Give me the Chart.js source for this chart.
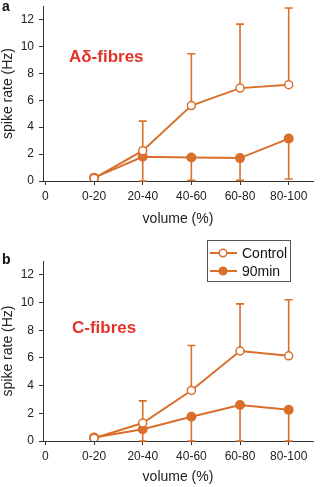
<!DOCTYPE html>
<html>
<head>
<meta charset="utf-8">
<script src="https://cdn.jsdelivr.net/npm/chart.js@4.4.1/dist/chart.umd.min.js"></script>
<style>
  body { margin: 0; background: #fff; font-family: 'Liberation Sans', Arial, sans-serif; }
  #wrap { position: relative; width: 320px; height: 487px; }
  canvas { position: absolute; left: 0; }
  .tag { position: absolute; font-weight: bold; color: #111; font-size: 14px; }
  .fib { position: absolute; font-weight: bold; color: #e2332a; font-size: 17px; }
</style>
</head>
<body>
<div id="wrap">
  <canvas id="chartA" width="320" height="240" style="top:0"></canvas>
  <canvas id="chartB" width="320" height="255" style="top:232px"></canvas>
  <div class="tag" style="left:2px; top:-2px">a</div>
  <div class="tag" style="left:2px; top:251px">b</div>
  <div class="fib" style="left:69px; top:47px">A&delta;-fibres</div>
  <div class="fib" style="left:72px; top:318px">C-fibres</div>
</div>
<script>
// x positions: 0 is the origin, categories sit at 1..5
const volumeTicks = [0, 1, 2, 3, 4, 5];
const volumeLabels = ['0', '0-20', '20-40', '40-60', '60-80', '80-100'];
const yTicks = [0, 2, 4, 6, 8, 10, 12];

// panel a: A-delta fibres
const aControl    = [0.2, 2.25, 5.6, 6.9, 7.15];
const aControlErr = [0.25, 2.2, 3.85, 4.75, 5.7];   // drawn upward
const a90         = [0.25, 1.8, 1.75, 1.7, 3.15];
const a90Err      = [0, 1.8, 1.7, 1.65, 3.0];       // drawn downward

// panel b: C fibres
const bControl    = [0.2, 1.3, 3.65, 6.5, 6.15];
const bControlErr = [0.25, 1.6, 3.25, 3.4, 4.05];
const b90         = [0.25, 0.85, 1.75, 2.6, 2.25];
const b90Err      = [0, 0.85, 1.75, 2.6, 2.25];

const ORANGE = '#d8702c';
const AXIS = '#333';
const FONT = "'Liberation Sans', Arial, sans-serif";

const toPoints = vals => vals.map((v, k) => ({ x: volumeTicks[k + 1], y: v }));

const errorBars = {
  id: 'errorBars',
  beforeDatasetsDraw(chart) {
    const { ctx, scales: { x, y } } = chart;
    ctx.save();
    chart.data.datasets.forEach(ds => {
      if (!ds.errors) return;
      ctx.strokeStyle = ds.borderColor;
      ctx.lineWidth = 1.6;
      ds.data.forEach((p, k) => {
        const e = ds.errors[k];
        if (!e) return;
        const px = x.getPixelForValue(p.x);
        const y0 = y.getPixelForValue(p.y);
        const y1 = y.getPixelForValue(p.y + ds.errDir * e);
        ctx.beginPath();
        ctx.moveTo(px, y0);
        ctx.lineTo(px, y1);
        ctx.moveTo(px - 4, y1);
        ctx.lineTo(px + 4, y1);
        ctx.stroke();
      });
    });
    ctx.restore();
  }
};

const boxLegend = {
  id: 'boxLegend',
  afterDraw(chart, args, opts) {
    if (!opts.show) return;
    const ctx = chart.ctx;
    ctx.save();
    ctx.strokeStyle = '#555';
    ctx.lineWidth = 1;
    ctx.strokeRect(207.5, 8.5, 83, 41);
    ctx.font = '14px ' + FONT;
    ctx.textBaseline = 'middle';
    chart.data.datasets.forEach((ds, k) => {
      const cy = 21 + k * 18;
      ctx.strokeStyle = ds.borderColor;
      ctx.lineWidth = 2;
      ctx.beginPath();
      ctx.moveTo(210, cy);
      ctx.lineTo(237, cy);
      ctx.stroke();
      ctx.beginPath();
      ctx.arc(223, cy, 3.8, 0, Math.PI * 2);
      ctx.fillStyle = ds.pointBackgroundColor;
      ctx.fill();
      ctx.lineWidth = 1.5;
      ctx.stroke();
      ctx.fillStyle = '#111';
      ctx.fillText(ds.label, 242, cy + 1);
    });
    ctx.restore();
  }
};

function makeChart(id, ctrl, ctrlErr, treat, treatErr, pad, xHeight, titlePad, legend) {
  return new Chart(document.getElementById(id), {
    type: 'line',
    data: {
      datasets: [
        {
          label: 'Control',
          data: toPoints(ctrl),
          errors: ctrlErr, errDir: 1,
          borderColor: ORANGE,
          borderWidth: 2,
          pointBackgroundColor: '#fff',
          pointBorderColor: ORANGE,
          pointBorderWidth: 1.5,
          pointRadius: 4
        },
        {
          label: '90min',
          data: toPoints(treat),
          errors: treatErr, errDir: -1,
          borderColor: ORANGE,
          borderWidth: 2,
          pointBackgroundColor: ORANGE,
          pointBorderColor: ORANGE,
          pointRadius: 4
        }
      ]
    },
    options: {
      responsive: false,
      animation: false,
      layout: { padding: { top: pad, right: 7, left: 0, bottom: 0 } },
      plugins: { legend: { display: false }, tooltip: { enabled: false }, boxLegend: { show: legend } },
      scales: {
        x: {
          type: 'linear',
          min: -0.05, max: 5.5,
          afterBuildTicks: s => { s.ticks = volumeTicks.map(v => ({ value: v })); },
          afterFit: s => { s.height = xHeight; s.paddingLeft = 0; s.paddingRight = 0; },
          grid: { display: true, drawOnChartArea: false, drawTicks: true, tickLength: 4, color: AXIS },
          border: { display: true, color: AXIS, width: 1 },
          ticks: {
            padding: 4, color: '#222', font: { family: FONT, size: 12 },
            maxRotation: 0, autoSkip: false,
            callback: v => volumeLabels[volumeTicks.indexOf(v)]
          },
          title: { display: true, text: 'volume (%)', color: '#222', font: { family: FONT, size: 14 }, padding: { top: 0, bottom: titlePad } }
        },
        y: {
          min: 0, max: 13,
          afterBuildTicks: s => { s.ticks = yTicks.map(v => ({ value: v })); },
          afterFit: s => { s.width = 43; s.paddingTop = 0; s.paddingBottom = 0; },
          grid: { display: true, drawOnChartArea: false, drawTicks: true, tickLength: 4, color: AXIS },
          border: { display: true, color: AXIS, width: 1 },
          ticks: { padding: 5, color: '#222', font: { family: FONT, size: 12 } },
          title: { display: true, text: 'spike rate (Hz)', color: '#222', font: { family: FONT, size: 14 }, padding: { top: 0, bottom: 0 } }
        }
      }
    },
    plugins: [errorBars, boxLegend]
  });
}

makeChart('chartA', aControl, aControlErr, a90, a90Err, 3, 59, 12.6, false);
makeChart('chartB', bControl, bControlErr, b90, b90Err, 29, 46, 1.6, true);
</script>
</body>
</html>
